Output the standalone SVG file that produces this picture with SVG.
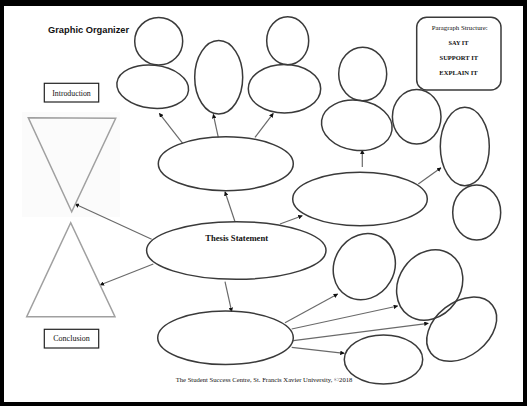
<svg xmlns="http://www.w3.org/2000/svg" width="527" height="406" viewBox="0 0 527 406">
<defs>
<style>
.sh{fill:none;stroke:#3a3a3a;stroke-width:1.5}
.tri{fill:none;stroke:#a0a0a0;stroke-width:1.5}
.ar{fill:none;stroke:#6a6a6a;stroke-width:1.2;marker-end:url(#ah)}
.lbl{fill:none;stroke:#222;stroke-width:1.2}
.serif{font-family:"Liberation Serif","Times New Roman",serif;fill:#111}
.sans{font-family:"Liberation Sans",Arial,sans-serif;fill:#111}
</style>
<marker id="ah" viewBox="0 0 10 10" refX="9" refY="5" markerWidth="4.5" markerHeight="4.5" markerUnits="userSpaceOnUse" orient="auto">
<path d="M0,0 L10,5 L0,10 z" fill="#111"/>
</marker>
</defs>
<rect x="0" y="0" width="527" height="406" fill="#000"/>
<rect x="4" y="6" width="519" height="396" fill="#fff"/>
<rect x="22" y="112" width="98" height="105" fill="#fbfbfb"/>

<text class="sans" x="48" y="33" font-size="9.3" font-weight="bold">Graphic Organizer</text>

<g id="connectors">
<line class="ar" x1="182.7" y1="143.3" x2="159.3" y2="113.3"/>
<line class="ar" x1="218.3" y1="137.3" x2="213.3" y2="114.3"/>
<line class="ar" x1="255" y1="137.3" x2="273.3" y2="113.3"/>
<line class="ar" x1="235" y1="221.7" x2="225" y2="191.7"/>
<line class="ar" x1="362.3" y1="167" x2="362.3" y2="150"/>
<line class="ar" x1="418.3" y1="184" x2="441" y2="167.7"/>
<line class="ar" x1="280" y1="224" x2="302.3" y2="215.7"/>
<line class="ar" x1="151.7" y1="239.3" x2="75" y2="204"/>
<line class="ar" x1="153.3" y1="264" x2="100" y2="285"/>
<line class="ar" x1="225" y1="281.7" x2="231.7" y2="311.7"/>
<line class="ar" x1="285" y1="322.7" x2="337.7" y2="294"/>
<line class="ar" x1="291.7" y1="329" x2="397.7" y2="306"/>
<line class="ar" x1="293.3" y1="340.7" x2="428.3" y2="323.3"/>
<line class="ar" x1="291.7" y1="347.3" x2="344.3" y2="353.3"/>
</g>

<g id="intro-triangle"><polygon class="tri" points="28.3,117.7 115.7,118.3 71.7,211.7"/></g>
<g id="conclusion-triangle"><polygon class="tri" points="70.7,222.7 26.7,316.7 115,316.7"/></g>

<g id="introduction"><rect class="lbl" x="44.3" y="83.3" width="54.4" height="18.7"/><text class="serif" x="71.5" y="95.5" font-size="7.8" text-anchor="middle">Introduction</text></g>
<g id="conclusion"><rect class="lbl" x="44.3" y="329.3" width="54.4" height="18.7"/><text class="serif" x="71.5" y="341.3" font-size="8" text-anchor="middle">Conclusion</text></g>

<g id="paragraph-structure">
<rect class="sh" x="416.7" y="17.3" width="84.3" height="72.7" rx="10" ry="10"/>
<text class="serif" x="459.7" y="29.5" font-size="6.8" text-anchor="middle">Paragraph Structure:</text>
<text class="serif" x="458.5" y="45" font-size="6.3" font-weight="bold" text-anchor="middle">SAY IT</text>
<text class="serif" x="458.8" y="60" font-size="6.5" font-weight="bold" text-anchor="middle">SUPPORT IT</text>
<text class="serif" x="458.5" y="75" font-size="6.6" font-weight="bold" text-anchor="middle">EXPLAIN IT</text>
</g>

<g id="thesis"><ellipse class="sh" cx="236.3" cy="250.5" rx="89.7" ry="28.8"/><text class="serif" x="236.7" y="241" font-size="8.6" font-weight="bold" text-anchor="middle">Thesis Statement</text></g>

<g id="body1"><ellipse class="sh" cx="225.8" cy="163.7" rx="67.5" ry="27"/></g>
<g id="body2"><ellipse class="sh" cx="360" cy="199" rx="67.3" ry="26.7"/></g>
<g id="body3"><ellipse class="sh" cx="225.5" cy="337.8" rx="67.8" ry="26.8"/></g>

<g id="b1-ellipse-left"><ellipse class="sh" cx="152.7" cy="86.7" rx="36" ry="21.5" transform="rotate(6 152.7 86.7)"/></g>
<g id="b1-circle-left"><ellipse class="sh" cx="158.7" cy="41.2" rx="24" ry="23.8"/></g>
<g id="b1-ellipse-mid"><ellipse class="sh" cx="218.7" cy="77.3" rx="24" ry="36.7"/></g>
<g id="b1-ellipse-right"><ellipse class="sh" cx="284.5" cy="88.8" rx="36.2" ry="24.3"/></g>
<g id="b1-circle-right"><ellipse class="sh" cx="287.7" cy="40.8" rx="21" ry="24"/></g>

<g id="b2-circle-top"><ellipse class="sh" cx="362.7" cy="74" rx="24" ry="26.7"/></g>
<g id="b2-ellipse"><ellipse class="sh" cx="356.8" cy="125.3" rx="35.5" ry="25" transform="rotate(8 356.8 125.3)"/></g>
<g id="b2-circle-mid"><ellipse class="sh" cx="416.7" cy="116.7" rx="24.3" ry="27.3"/></g>
<g id="b2-ellipse-tall"><ellipse class="sh" cx="464.8" cy="146.5" rx="24.5" ry="39.2"/></g>
<g id="b2-circle-low"><ellipse class="sh" cx="476.7" cy="212.5" rx="24" ry="27.5"/></g>

<g id="b3-ellipse-1"><ellipse class="sh" cx="364.3" cy="266.7" rx="30" ry="34" transform="rotate(30 364.3 266.7)"/></g>
<g id="b3-ellipse-2"><ellipse class="sh" cx="429.7" cy="285" rx="31" ry="37" transform="rotate(35 429.7 285)"/></g>
<g id="b3-ellipse-3"><ellipse class="sh" cx="461.7" cy="329.2" rx="39" ry="27" transform="rotate(-38 461.7 329.2)"/></g>
<g id="b3-ellipse-4"><ellipse class="sh" cx="383.5" cy="359.5" rx="39.2" ry="24.5"/></g>

<text class="serif" x="264" y="382" font-size="6.65" text-anchor="middle">The Student Success Centre, St. Francis Xavier University, ©2018</text>
</svg>
